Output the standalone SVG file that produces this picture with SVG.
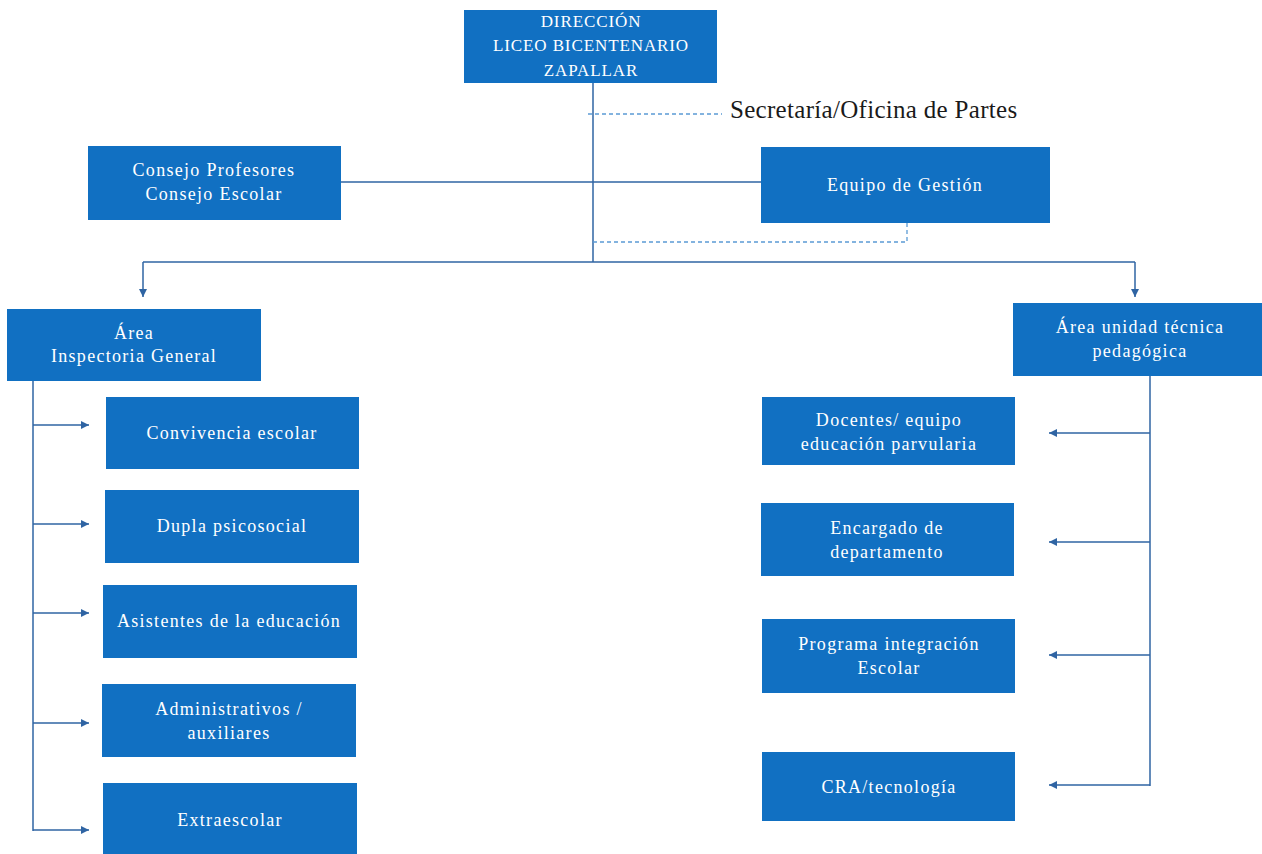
<svg xmlns="http://www.w3.org/2000/svg" width="1262" height="854" viewBox="0 0 1262 854">
<defs>
<style>
.box{fill:#1170c2;}
.t{font-family:"Liberation Serif","DejaVu Serif",serif;font-size:18px;fill:#ffffff;text-anchor:middle;letter-spacing:1.3px;}
.td{font-family:"Liberation Serif","DejaVu Serif",serif;font-size:17px;fill:#ffffff;text-anchor:middle;letter-spacing:0.9px;}
.ln{stroke:#2f64a3;stroke-width:1.5;fill:none;}
.dash{stroke:#5b9bd5;stroke-width:1.3;fill:none;stroke-dasharray:4 3;}
.lbl{font-family:"Liberation Serif","DejaVu Serif",serif;font-size:25px;fill:#1a1a1a;letter-spacing:0.3px;}
</style>
<marker id="ah" viewBox="0 0 10 10" refX="10" refY="5" markerWidth="8" markerHeight="8" markerUnits="userSpaceOnUse" orient="auto">
<path d="M0,0 L10,5 L0,10 z" fill="#2f64a3"/>
</marker>
</defs>
<rect width="1262" height="854" fill="#ffffff"/>
<g id="connectors">
<line class="ln" x1="593" y1="83" x2="593" y2="262"/>
<line class="dash" x1="588" y1="114" x2="722" y2="114"/>
<line class="ln" x1="341" y1="182" x2="761" y2="182"/>
<polyline class="dash" points="907,223 907,242 593,242"/>
<line class="ln" x1="143" y1="262" x2="1135" y2="262"/>
<line class="ln" x1="143" y1="262" x2="143" y2="297" marker-end="url(#ah)"/>
<line class="ln" x1="1135" y1="262" x2="1135" y2="297" marker-end="url(#ah)"/>
<line class="ln" x1="33" y1="381" x2="33" y2="831"/>
<line class="ln" x1="33" y1="425" x2="89" y2="425" marker-end="url(#ah)"/>
<line class="ln" x1="33" y1="524" x2="89" y2="524" marker-end="url(#ah)"/>
<line class="ln" x1="33" y1="613" x2="89" y2="613" marker-end="url(#ah)"/>
<line class="ln" x1="33" y1="723" x2="89" y2="723" marker-end="url(#ah)"/>
<line class="ln" x1="33" y1="830" x2="89" y2="830" marker-end="url(#ah)"/>
<line class="ln" x1="1150" y1="376" x2="1150" y2="786"/>
<line class="ln" x1="1150" y1="433" x2="1049" y2="433" marker-end="url(#ah)"/>
<line class="ln" x1="1150" y1="542" x2="1049" y2="542" marker-end="url(#ah)"/>
<line class="ln" x1="1150" y1="655" x2="1049" y2="655" marker-end="url(#ah)"/>
<line class="ln" x1="1150" y1="785" x2="1049" y2="785" marker-end="url(#ah)"/>
</g>
<g id="direccion">
<rect class="box" x="464" y="10" width="253" height="73"/>
<text class="td" x="591" y="27">DIRECCIÓN</text>
<text class="td" x="591" y="51">LICEO BICENTENARIO</text>
<text class="td" x="591" y="76">ZAPALLAR</text>
</g>
<g id="secretaria">
<text class="lbl" x="730" y="118">Secretaría/Oficina de Partes</text>
</g>
<g id="consejo">
<rect class="box" x="88" y="146" width="253" height="74"/>
<text class="t" x="214" y="176">Consejo Profesores</text>
<text class="t" x="214" y="200">Consejo Escolar</text>
</g>
<g id="equipo">
<rect class="box" x="761" y="147" width="289" height="76"/>
<text class="t" x="905" y="191">Equipo de Gestión</text>
</g>
<g id="inspectoria">
<rect class="box" x="7" y="309" width="254" height="72"/>
<text class="t" x="134" y="339">Área</text>
<text class="t" x="134" y="362">Inspectoria General</text>
</g>
<g id="utp">
<rect class="box" x="1013" y="303" width="249" height="73"/>
<text class="t" x="1140" y="333">Área unidad técnica</text>
<text class="t" x="1140" y="357">pedagógica</text>
</g>
<g id="convivencia">
<rect class="box" x="106" y="397" width="253" height="72"/>
<text class="t" x="232" y="439">Convivencia escolar</text>
</g>
<g id="dupla">
<rect class="box" x="105" y="490" width="254" height="73"/>
<text class="t" x="232" y="532">Dupla psicosocial</text>
</g>
<g id="asistentes">
<rect class="box" x="103" y="585" width="254" height="73"/>
<text class="t" x="229" y="627">Asistentes de la educación</text>
</g>
<g id="administrativos">
<rect class="box" x="102" y="684" width="254" height="73"/>
<text class="t" x="229" y="715">Administrativos /</text>
<text class="t" x="229" y="739">auxiliares</text>
</g>
<g id="extraescolar">
<rect class="box" x="103" y="783" width="254" height="75"/>
<text class="t" x="230" y="826">Extraescolar</text>
</g>
<g id="docentes">
<rect class="box" x="762" y="397" width="253" height="68"/>
<text class="t" x="889" y="426">Docentes/ equipo</text>
<text class="t" x="889" y="450">educación parvularia</text>
</g>
<g id="encargado">
<rect class="box" x="761" y="503" width="253" height="73"/>
<text class="t" x="887" y="534">Encargado de</text>
<text class="t" x="887" y="558">departamento</text>
</g>
<g id="programa">
<rect class="box" x="762" y="619" width="253" height="74"/>
<text class="t" x="889" y="650">Programa integración</text>
<text class="t" x="889" y="674">Escolar</text>
</g>
<g id="cra">
<rect class="box" x="762" y="752" width="253" height="69"/>
<text class="t" x="889" y="793">CRA/tecnología</text>
</g>
</svg>
